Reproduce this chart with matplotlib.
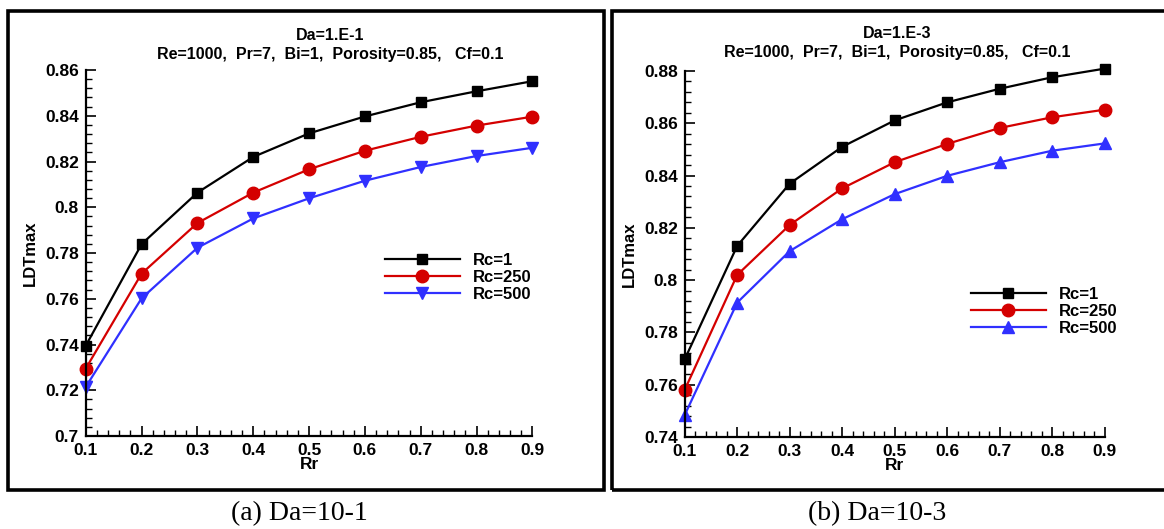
import matplotlib
matplotlib.use('Agg')
import matplotlib.pyplot as plt
from matplotlib.ticker import MultipleLocator, FuncFormatter
from matplotlib.patches import Rectangle

plt.rcParams['font.family'] = ['Liberation Sans', 'DejaVu Sans']

rr = [0.1, 0.2, 0.3, 0.4, 0.5, 0.6, 0.7, 0.8, 0.9]
labels = ['Rc=1', 'Rc=250', 'Rc=500']

# Da = 1.E-1
a_rc1 = [0.7395, 0.7839, 0.8064, 0.8220, 0.8323, 0.8397, 0.8459, 0.8507, 0.8551]
a_rc250 = [0.7295, 0.7710, 0.7931, 0.8064, 0.8166, 0.8247, 0.8308, 0.8357, 0.8396]
a_rc500 = [0.7215, 0.7602, 0.7823, 0.7951, 0.8039, 0.8116, 0.8176, 0.8224, 0.8260]

# Da = 1.E-3
b_rc1 = [0.7697, 0.8131, 0.8369, 0.8510, 0.8611, 0.8680, 0.8732, 0.8776, 0.8809]
b_rc250 = [0.7580, 0.8020, 0.8211, 0.8351, 0.8451, 0.8521, 0.8582, 0.8623, 0.8652]
b_rc500 = [0.7484, 0.7914, 0.8111, 0.8233, 0.8329, 0.8399, 0.8451, 0.8495, 0.8523]

W, H = 1164, 529
fig = plt.figure(figsize=(W / 100, H / 100), dpi=100)

def fx(px):
    return px / W

def fy(py):
    return 1 - py / H

colors = ['black', '#d40000', '#3030ff']
sizes = [7.5, 9, 8.5]


def panel(rect, series, markers, ylim, title_x, title_y, leg_xy, caption, cap_x):
    ax = fig.add_axes(rect)
    for vals, c, m, lab, ms in zip(series, colors, markers, labels, sizes):
        ax.plot(rr, vals, color=c, marker=m, ms=ms, lw=1.6, label=lab, clip_on=False)
    ax.set_xlim(0.1, 0.9)
    ax.set_ylim(*ylim)
    ax.xaxis.set_major_locator(MultipleLocator(0.1))
    ax.xaxis.set_minor_locator(MultipleLocator(0.02))
    ax.yaxis.set_major_locator(MultipleLocator(0.02))
    ax.yaxis.set_minor_locator(MultipleLocator(0.004))
    fmt = FuncFormatter(lambda v, p: '%g' % round(v, 3))
    ax.xaxis.set_major_formatter(fmt)
    ax.yaxis.set_major_formatter(fmt)
    ax.spines['top'].set_visible(False)
    ax.spines['right'].set_visible(False)
    for s in ['left', 'bottom']:
        ax.spines[s].set_linewidth(1.6)
    ax.tick_params(which='major', direction='in', length=7.5, width=1.2, pad=5,
                   labelsize=12.5)
    ax.tick_params(which='minor', direction='in', length=4.5, width=1.0)
    for t in ax.get_xticklabels() + ax.get_yticklabels():
        t.set_fontweight('bold')
    ax.set_xlabel('Rr', fontsize=12.5, fontweight='bold', labelpad=-1)
    ax.set_ylabel('LDTmax', fontsize=12, fontweight='bold', labelpad=5)
    fig.text(fx(title_x), fy(title_y[0]), title_lines[0], ha='center', va='center',
             fontsize=11.5, fontweight='bold')
    fig.text(fx(title_x), fy(title_y[1]), title_lines[1], ha='center', va='center',
             fontsize=11.5, fontweight='bold')
    ax.legend(loc='upper left', bbox_to_anchor=(fx(leg_xy[0]), fy(leg_xy[1])),
              bbox_transform=fig.transFigure, frameon=False, borderpad=0,
              borderaxespad=0, handlelength=4.5, handletextpad=0.8,
              labelspacing=0.12, prop={'size': 12, 'weight': 'bold'})
    fig.text(fx(cap_x), fy(514), caption, ha='center', va='center',
             fontsize=20, family=['Liberation Serif', 'DejaVu Serif'])
    return ax


title_lines = ['Da=1.E-1', 'Re=1000,  Pr=7,  Bi=1,  Porosity=0.85,   Cf=0.1']
panel([fx(85.8), fy(436), (532.4 - 85.8) / W, 366 / H],
      [a_rc1, a_rc250, a_rc500], ['s', 'o', 'v'], (0.7, 0.86),
      330, (36, 55), (384.6, 253), '(a) Da=10-1', 299)

title_lines = ['Da=1.E-3', 'Re=1000,  Pr=7,  Bi=1,  Porosity=0.85,   Cf=0.1']
panel([fx(684.7), fy(437), (1104.6 - 684.7) / W, 366 / H],
      [b_rc1, b_rc250, b_rc500], ['s', 'o', '^'], (0.74, 0.88),
      897, (33, 52), (970.9, 287), '(b) Da=10-3', 877)

# panel frames
fig.patches.append(Rectangle((fx(7.5), fy(489.5)), (604 - 7.5) / W, (489.5 - 11) / H,
                             transform=fig.transFigure, fill=False, lw=2.6, ec='black'))
fig.patches.append(Rectangle((fx(612), fy(489.5)), (1170 - 612) / W, (489.5 - 11) / H,
                             transform=fig.transFigure, fill=False, lw=2.6, ec='black'))

fig.savefig('out.png', dpi=100)
